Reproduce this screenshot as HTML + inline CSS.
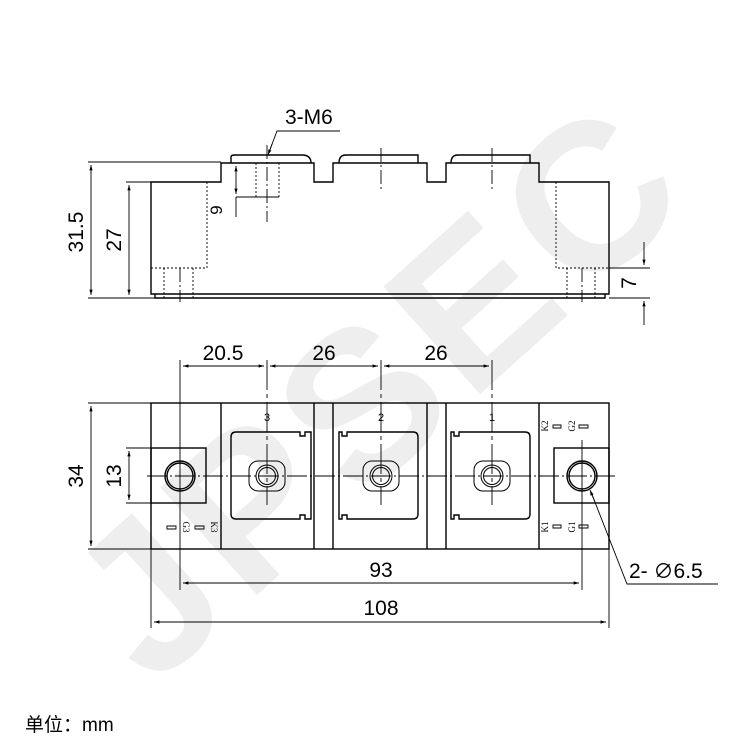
<!DOCTYPE html>
<html><head><meta charset="utf-8"><style>body{margin:0;background:#fff}svg{display:block}</style></head><body>
<svg width="750" height="750" viewBox="0 0 750 750" xmlns="http://www.w3.org/2000/svg" font-family="Liberation Sans, Noto Sans CJK SC, sans-serif">
<defs><marker id="a" viewBox="0 0 10 10" refX="10" refY="5" markerWidth="12" markerHeight="6" orient="auto-start-reverse"><path d="M0,2 L10,5 L0,8z" fill="#000"/></marker></defs>
<!-- watermark -->
<g fill="#eeeeee" font-weight="bold" font-size="210" transform="translate(380,390) rotate(-42)">
<text x="0" y="70" text-anchor="middle" letter-spacing="10">JPSEC</text></g>
<g stroke="#000" fill="none" stroke-width="1.4">
<!-- side view -->
<path d="M151,294 V182 H221 V163 H314 V182 H333 V163 H427 V182 H446 V163 H539 V182 H609 V294 Z"/>
<path d="M155,294 V298 H605 V294"/>
<path d="M231,163 V157 Q231,155 235,155 H302 Q311,155 311,163 M339,163 Q339,155 346,155 H418 V163 M451,163 Q451,155 458,155 H530 V163"/>
</g>
<g stroke="#000" fill="none" stroke-width="0.9">
<path d="M207,182 V268 H151 M164,268 V298 M193,268 V298 M556,182 V268 H609 M567,268 V298 M595,268 V298 M256,163 V197 M279,163 V197" stroke-dasharray="2,2"/>
<path d="M267,145 V222 M381,148 V192 M492,148 V192 M180,268 V302 M582,268 V302" stroke-dasharray="14,3,2,3"/>
<path d="M88,162 H221 M88,298 H155 M126,182 H151 M236,197 H279 M609,268 H650 M609,298 H650"/>
<path d="M91,165 V295" marker-start="url(#a)" marker-end="url(#a)"/>
<path d="M129,185 V295" marker-start="url(#a)" marker-end="url(#a)"/>
<path d="M236,166 V194" marker-start="url(#a)" marker-end="url(#a)"/><path d="M236,197 V217"/>
<path d="M644,242 V265" marker-end="url(#a)"/><path d="M644,325 V301" marker-end="url(#a)"/>
<path d="M340,131 H277 L268,155" /><path d="M272,144 L268,155" marker-end="url(#a)"/>
</g>
<g font-size="21" fill="#000">
<text x="285" y="124">3-M6</text>
<text transform="translate(83,232) rotate(-90)" text-anchor="middle">31.5</text>
<text transform="translate(121,240) rotate(-90)" text-anchor="middle">27</text>
<text transform="translate(222,210) rotate(-90)" text-anchor="middle" font-size="17">9</text>
<text transform="translate(636,283) rotate(-90)" text-anchor="middle">7</text>
</g>
<!-- top view -->
<g stroke="#000" fill="none" stroke-width="1.4">
<rect x="151" y="403" width="458" height="146"/>
<path d="M221,403 V549 M314,403 V549 M333,403 V549 M427,403 V549 M446,403 V549 M539,403 V549"/>
<rect x="151" y="448" width="55" height="55"/><rect x="554" y="448" width="55" height="55"/>
<circle cx="180" cy="476" r="15"/><circle cx="180" cy="476" r="13"/>
<circle cx="582" cy="476" r="15"/><circle cx="582" cy="476" r="13"/>
<path d="M236,432 H300 V436 H305 V432 H311 V519 H305 V515 H300 V519 H236 Q231,519 231,514 V437 Q231,432 236,432Z"/>
<path d="M413,432 H347 V436 H342 V432 H339 V519 H342 V515 H347 V519 H413 Q418,519 418,514 V437 Q418,432 413,432Z"/>
<path d="M525,432 H459 V436 H454 V432 H451 V519 H454 V515 H459 V519 H525 Q530,519 530,514 V437 Q530,432 525,432Z"/>
</g>
<g stroke="#000" fill="none" stroke-width="1">
<rect x="249" y="461" width="36" height="30" rx="9"/><circle cx="267" cy="476" r="11"/><circle cx="267" cy="476" r="8.5"/>
<rect x="363" y="461" width="36" height="30" rx="9"/><circle cx="381" cy="476" r="11"/><circle cx="381" cy="476" r="8.5"/>
<rect x="474" y="461" width="36" height="30" rx="9"/><circle cx="492" cy="476" r="11"/><circle cx="492" cy="476" r="8.5"/>
<path d="M167,526h9v3h-9z M195,526h9v3h-9z M553,425h8v3h-8z M579,425h9v3h-9z M553,525h8v3h-8z M579,525h9v3h-9z" stroke-width="0.9"/>
</g>
<g stroke="#000" fill="none" stroke-width="0.9">
<path d="M147,476 H615" stroke-dasharray="20,3,2,3"/>
<path d="M267,360 V505 M381,360 V505 M492,360 V505" stroke-dasharray="30,4,4,4"/>
<path d="M180,360 V590 M582,440 V590 M151,549 V628 M609,549 V628"/>
<path d="M88,403 H151 M88,549 H151 M126,448 H151 M126,503 H151"/>
<path d="M91,406 V546" marker-start="url(#a)" marker-end="url(#a)"/>
<path d="M129,451 V500" marker-start="url(#a)" marker-end="url(#a)"/>
<path d="M183,366 H264" marker-start="url(#a)" marker-end="url(#a)"/>
<path d="M270,366 H378" marker-start="url(#a)" marker-end="url(#a)"/>
<path d="M384,366 H489" marker-start="url(#a)" marker-end="url(#a)"/>
<path d="M183,583 H579" marker-start="url(#a)" marker-end="url(#a)"/>
<path d="M154,622 H606" marker-start="url(#a)" marker-end="url(#a)"/>
<path d="M718,584 H627 L591,492"/><path d="M595,502 L590,490" marker-end="url(#a)"/>
</g>
<g font-size="21" fill="#000">
<text x="223" y="360" text-anchor="middle">20.5</text>
<text x="324" y="360" text-anchor="middle">26</text>
<text x="436" y="360" text-anchor="middle">26</text>
<text x="381" y="577" text-anchor="middle">93</text>
<text x="381" y="615" text-anchor="middle">108</text>
<text transform="translate(83,476) rotate(-90)" text-anchor="middle">34</text>
<text transform="translate(121,476) rotate(-90)" text-anchor="middle">13</text>
<text x="629" y="578">2- <tspan font-size="20">∅</tspan>6.5</text>
<text x="25" y="731" font-size="19">单位：mm</text>
</g>
<g font-size="11" fill="#000" text-anchor="middle">
<text x="267" y="421">3</text><text x="381" y="421">2</text><text x="492" y="421">1</text>
</g>
<g font-size="9" fill="#000" font-family="Liberation Serif, serif">
<text transform="translate(548,426) rotate(-90)" text-anchor="middle">K2</text>
<text transform="translate(575,426) rotate(-90)" text-anchor="middle">G2</text>
<text transform="translate(548,527) rotate(-90)" text-anchor="middle">K1</text>
<text transform="translate(575,527) rotate(-90)" text-anchor="middle">G1</text>
<text transform="translate(211,527) rotate(90)" text-anchor="middle">K3</text>
<text transform="translate(183,527) rotate(90)" text-anchor="middle">G3</text>
</g>
</svg>
</body></html>
